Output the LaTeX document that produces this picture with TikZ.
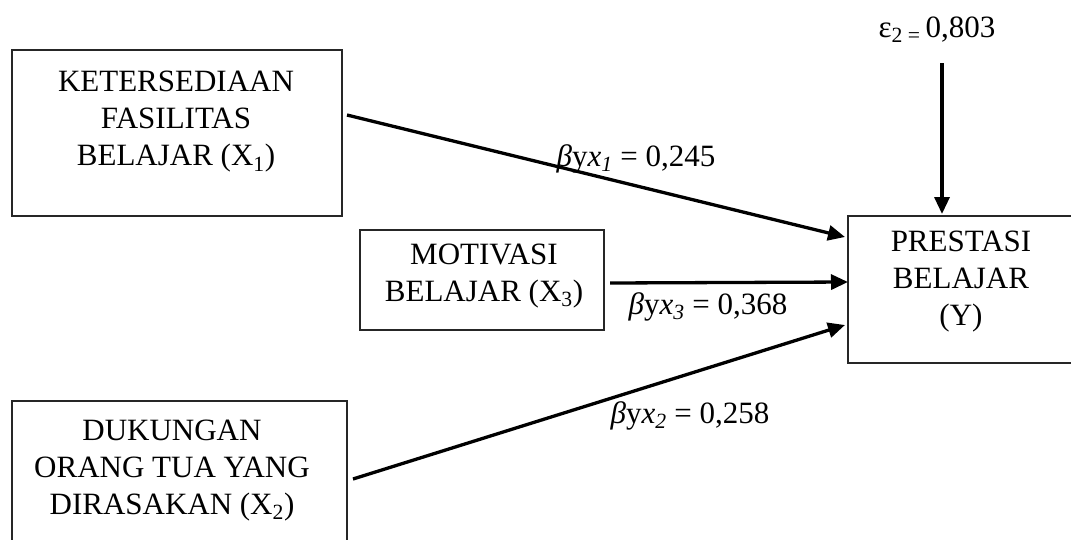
\documentclass[tikz,border=0pt]{standalone}
\usepackage{fontspec}
\setmainfont{Liberation Serif}
\usetikzlibrary{arrows.meta}
\begin{document}
\begin{tikzpicture}[x=1pt,y=-1pt,
  box/.style={draw=black!85, line width=1.3pt, inner sep=0pt, outer sep=0pt},
  txt/.style={font=\fontsize{31}{37}\selectfont, align=center, inner sep=0pt},
  lbl/.style={font=\fontsize{31}{37}\selectfont, inner sep=0pt, anchor=base},
  arr/.style={line width=3.3pt, -{Triangle[length=17pt,width=15pt]}}]
\useasboundingbox (0,0) rectangle (1071,539);
\fill[white] (0,0) rectangle (1071,539);
\clip (0,0) rectangle (1071,539);
% boxes
\node[box, minimum width=330pt, minimum height=166pt] (b1) at (177,133) {};
\node[box, minimum width=244pt, minimum height=100pt] (b2) at (482,280) {};
\node[box, minimum width=335pt, minimum height=179pt] (b3) at (179.5,490.5) {};
\node[box, minimum width=228pt, minimum height=147pt] (y) at (962,289.5) {};
% box texts
\node[txt] (t1) at (176,121.5) {KETERSEDIAAN\\FASILITAS\\BELAJAR (X\textsubscript{1})};
\node[txt] (t2) at (484,275.6) {MOTIVASI\\BELAJAR (X\textsubscript{3})};
\node[txt] (t3) at (172,470.1) {DUKUNGAN\\ORANG TUA YANG\\DIRASAKAN (X\textsubscript{2})};
\node[txt] (ty) at (961,281.1) {PRESTASI\\BELAJAR\\(Y)};
% error term
\node[lbl] (eps) at (937,37) {ε\textsubscript{2 =}\,0,803};
\coordinate (e0) at (942,63);
% connectors
\draw[arr] ([shift={(5,-18)}]b1.east) -- ([shift={(-3,-52.5)}]y.west);
\draw[arr] ([shift={(6,3)}]b2.east) -- ([shift={(0,-7.5)}]y.west);
\draw[arr] ([shift={(6,-11.5)}]b3.east) -- ([shift={(-3,35.5)}]y.west);
\draw[arr] (e0) -- ([shift={(-20,-2)}]y.north);
% path labels
\node[lbl] (l1) at (636,166) {\textit{β}y\textit{x}\textsubscript{\textit{1}} = 0,245};
\node[lbl] (l3) at (708,314) {\textit{β}y\textit{x}\textsubscript{\textit{3}} = 0,368};
\node[lbl] (l2) at (690,423) {\textit{β}y\textit{x}\textsubscript{\textit{2}} = 0,258};
\end{tikzpicture}
\end{document}
